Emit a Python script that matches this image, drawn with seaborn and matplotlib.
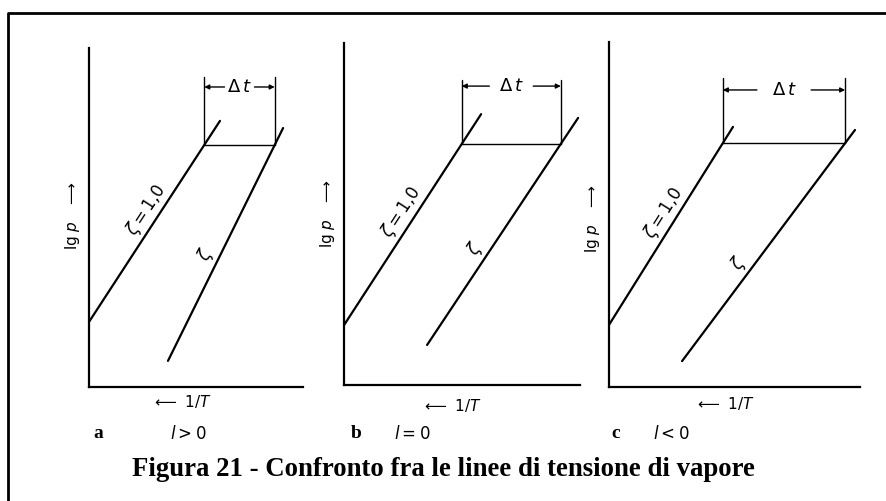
import numpy as np
import matplotlib
matplotlib.use("Agg")
import matplotlib.pyplot as plt
from matplotlib.lines import Line2D
import seaborn as sns

# Schematic data: each panel has the reference curve (zeta = 1.0) and the
# solution curve (zeta), given as end points in (1/T, lg p) units (0..100).
panel_letters = ["a", "b", "c"]
heat_labels = ["$l > 0$", "$l = 0$", "$l < 0$"]

ref_x = [[0.0, 61.2], [0.0, 58.1], [0.0, 49.4]]
ref_y = [[19.2, 78.5], [17.5, 79.2], [18.0, 75.4]]
sol_x = [[36.9, 90.7], [35.2, 99.2], [29.1, 98.0]]
sol_y = [[7.7, 76.4], [11.7, 78.1], [7.5, 74.5]]

# Level at which the temperature difference Δt is measured
delta_level = [71.4, 70.5, 70.7]
bracket_top = [91.4, 89.2, 89.6]
arrow_level = [88.5, 87.4, 86.1]

sns.set_theme(style="white")
plt.rcParams["font.family"] = ["DejaVu Sans"]
plt.rcParams["mathtext.fontset"] = "dejavusans"

W, H = 887, 501
fig = plt.figure(figsize=(W / 100, H / 100), dpi=100)
fig.patch.set_facecolor("white")


def rect(x0, x1, ytop, ybot):
    return [x0 / W, 1 - ybot / H, (x1 - x0) / W, (ybot - ytop) / H]


panel_rects = [rect(89, 303, 48, 387), rect(344, 580, 43, 385), rect(609, 860, 42, 387)]
label_gap = [7.0, 9.3, 10.8]
ylabel_pos = [(73, 215), (328, 213), (593, 218)]
xlabel_pos = [(182, 401), (452, 405), (725, 404)]
letter_x = [98, 356, 616]
heat_x = [188, 412, 671]
ref_label_t = [0.52, 0.50, 0.53]
sol_label_t = [0.43, 0.39, 0.39]

for i in range(3):
    ax = fig.add_axes(panel_rects[i])
    ax.set_xlim(0, 100)
    ax.set_ylim(0, 100)
    ax.set_facecolor("none")
    for side in ["top", "right"]:
        ax.spines[side].set_visible(False)
    for side in ["left", "bottom"]:
        ax.spines[side].set_color("black")
        ax.spines[side].set_linewidth(1.6)
    ax.set_xticks([])
    ax.set_yticks([])
    ax.set_xlabel("")
    ax.set_ylabel("")

    sns.lineplot(x=ref_x[i], y=ref_y[i], ax=ax, color="black", lw=1.6,
                 estimator=None, sort=False)
    sns.lineplot(x=sol_x[i], y=sol_y[i], ax=ax, color="black", lw=1.6,
                 estimator=None, sort=False)

    # Δt bracket between the two curves
    yh = delta_level[i]
    xl = np.interp(yh, ref_y[i], ref_x[i])
    xr = np.interp(yh, sol_y[i], sol_x[i])
    ax.plot([xl, xr], [yh, yh], color="black", lw=1.0)
    ax.plot([xl, xl], [yh, bracket_top[i]], color="black", lw=1.0)
    ax.plot([xr, xr], [yh, bracket_top[i]], color="black", lw=1.0)
    mid = (xl + xr) / 2
    ya = arrow_level[i]
    for end, start in [(xl, mid - label_gap[i]), (xr, mid + label_gap[i])]:
        ax.annotate("", xy=(end, ya), xytext=(start, ya),
                    arrowprops=dict(arrowstyle="-|>", color="black", lw=1.0,
                                    shrinkA=0, shrinkB=0, mutation_scale=7))
    ax.text(mid, ya, r"$\Delta\, t$", ha="center", va="center", fontsize=13,
            color="black")

    # Curve labels along the lines
    for xs, ys, t, txt in [(ref_x[i], ref_y[i], ref_label_t[i], r"$\zeta = 1{,}0$"),
                           (sol_x[i], sol_y[i], sol_label_t[i], r"$\zeta$")]:
        p0 = ax.transData.transform((xs[0], ys[0]))
        p1 = ax.transData.transform((xs[1], ys[1]))
        d = p1 - p0
        ang = np.degrees(np.arctan2(d[1], d[0]))
        n = np.array([-d[1], d[0]]) / np.hypot(*d)
        off = n * 13 * 72 / 100
        px = xs[0] + t * (xs[1] - xs[0])
        py = ys[0] + t * (ys[1] - ys[0])
        ax.annotate(txt, xy=(px, py), xytext=(off[0], off[1]),
                    textcoords="offset points", rotation=ang,
                    rotation_mode="anchor", ha="center", va="center",
                    fontsize=12, color="black")

    fig.text(ylabel_pos[i][0] / W, 1 - ylabel_pos[i][1] / H,
             r"lg $p$   $\longrightarrow$", rotation=90, ha="center",
             va="center", fontsize=11, color="black")
    fig.text(xlabel_pos[i][0] / W, 1 - xlabel_pos[i][1] / H,
             r"$\longleftarrow\ 1/T$", ha="center", va="center", fontsize=11,
             color="black")
    fig.text(letter_x[i] / W, 1 - 434 / H, panel_letters[i], ha="center",
             va="center", fontsize=14, fontweight="bold",
             family="Liberation Serif", color="black")
    fig.text(heat_x[i] / W, 1 - 434 / H, heat_labels[i], ha="center",
             va="center", fontsize=12, color="black")

fig.text(443 / W, 1 - 470 / H,
         "Figura 21 - Confronto fra le linee di tensione di vapore",
         ha="center", va="center", fontsize=19.3, fontweight="bold",
         family="Liberation Serif", color="black")

# Outer frame (top and left edges)
fig.add_artist(Line2D([8 / W, 8 / W, 1.0], [0.0, 1 - 13 / H, 1 - 13 / H],
                      transform=fig.transFigure, color="black", lw=2.0))

fig.savefig("out.png", dpi=100, facecolor="white")
